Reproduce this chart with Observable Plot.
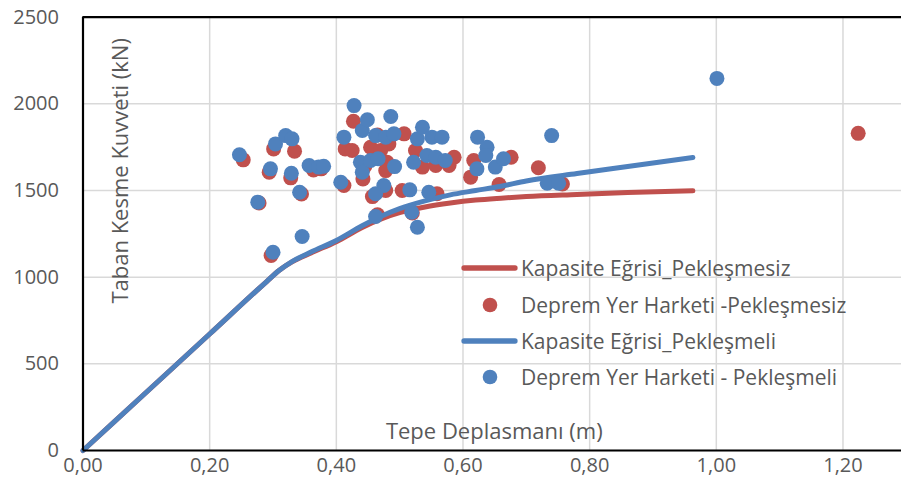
<!DOCTYPE html>
<html>
<head>
<meta charset="utf-8">
<script src="https://cdn.jsdelivr.net/npm/d3@7"></script>
<script src="https://cdn.jsdelivr.net/npm/@observablehq/plot@0.6"></script>
<style>
  body { margin: 0; background: #fff; }
  #wrap { position: relative; width: 901px; height: 500px; font-family: "Open Sans", sans-serif; }
  #legend { position: absolute; left: 461px; top: 250px; color: #595959; font-size: 21px; }
  .row { height: 36.4px; display: flex; align-items: center; white-space: nowrap; }
  .row svg { flex: none; margin-right: 3px; }
</style>
</head>
<body>
<div id="wrap"></div>
<script>
// ---- data ----
const xLabel = "Tepe Deplasmanı (m)";
const yLabel = "Taban Kesme Kuvveti (kN)";
const seriesNames = [
  "Kapasite Eğrisi_Pekleşmesiz",
  "Deprem Yer Harketi -Pekleşmesiz",
  "Kapasite Eğrisi_Pekleşmeli",
  "Deprem Yer Harketi - Pekleşmeli"
];
const colors = ["#C0504D", "#C0504D", "#4F81BD", "#4F81BD"];
const xTicks = [0, 0.2, 0.4, 0.6, 0.8, 1.0, 1.2];
const yTicks = [0, 500, 1000, 1500, 2000, 2500];

// capacity curve, no strain hardening (Pekleşmesiz)
const capRedX = [0, 0.10, 0.20, 0.29, 0.31, 0.33, 0.36, 0.40, 0.44, 0.47, 0.50, 0.54, 0.58, 0.62, 0.66, 0.70, 0.78, 0.86, 0.963];
const capRedY = [0, 336, 672, 975, 1040, 1088, 1140, 1205, 1285, 1335, 1372, 1405, 1428, 1445, 1456, 1465, 1477, 1488, 1498];
// capacity curve, with strain hardening (Pekleşmeli)
const capBlueX = [0, 0.10, 0.20, 0.29, 0.31, 0.33, 0.36, 0.40, 0.44, 0.47, 0.50, 0.54, 0.58, 0.62, 0.66, 0.70, 0.78, 0.86, 0.963];
const capBlueY = [0, 336, 672, 975, 1040, 1090, 1145, 1212, 1295, 1350, 1395, 1440, 1475, 1500, 1525, 1555, 1598, 1638, 1690];

// ground motion results, Pekleşmesiz
const gmRedX = [0.253, 0.301, 0.334, 0.294, 0.328, 0.364, 0.376, 0.345, 0.278, 0.297, 0.427, 0.414, 0.425, 0.454, 0.483, 0.470, 0.507, 0.525,
                0.480, 0.442, 0.478, 0.412, 0.457, 0.478, 0.504, 0.465, 0.536, 0.557, 0.578, 0.586, 0.617, 0.612, 0.676, 0.657,
                0.559, 0.719, 0.757, 1.224, 0.520, 0.465, 0.445];
const gmRedY = [1677, 1740, 1727, 1606, 1573, 1619, 1625, 1480, 1428, 1125, 1900, 1740, 1731, 1750, 1769, 1731, 1827, 1731,
                1663, 1567, 1615, 1529, 1465, 1500, 1500, 1360, 1635, 1644, 1644, 1692, 1673, 1577, 1692, 1535,
                1481, 1631, 1538, 1830, 1370, 1820, 1640];
// ground motion results, Pekleşmeli
const gmBlueX = [0.247, 0.276, 0.300, 0.296, 0.304, 0.320, 0.330, 0.329, 0.342, 0.346, 0.357, 0.372, 0.380, 0.407, 0.412, 0.428, 0.441, 0.449,
                 0.486, 0.438, 0.441, 0.454, 0.466, 0.462, 0.478, 0.491, 0.492, 0.475, 0.462, 0.462, 0.516, 0.519, 0.528, 0.522,
                 0.528, 0.536, 0.551, 0.567, 0.543, 0.557, 0.572, 0.546, 0.623, 0.638, 0.636, 0.622, 0.651, 0.664, 0.740, 0.733,
                 0.751, 1.001];
const gmBlueY = [1706, 1433, 1144, 1625, 1769, 1817, 1798, 1600, 1490, 1235, 1644, 1635, 1640, 1548, 1808, 1990, 1846, 1908,
                 1927, 1663, 1606, 1673, 1683, 1817, 1808, 1827, 1638, 1529, 1481, 1350, 1504, 1375, 1288, 1663,
                 1798, 1865, 1808, 1808, 1702, 1692, 1673, 1490, 1808, 1750, 1702, 1625, 1635, 1683, 1817, 1542,
                 1542, 2147];

const zip = (xs, ys) => xs.map((x, i) => ({x, y: ys[i]}));
const capRed = zip(capRedX, capRedY);
const capBlue = zip(capBlueX, capBlueY);
const gmRed = zip(gmRedX, gmRedY);
const gmBlue = zip(gmBlueX, gmBlueY);

const fmtX = d => d3.format(".2f")(d).replace(".", ",");
const textColor = "#595959";
const gridColor = "#d9d9d9";

const chart = Plot.plot({
  width: 901,
  height: 500,
  marginLeft: 82.5,
  marginRight: 0,
  marginTop: 16.7,
  marginBottom: 50,
  style: {fontFamily: "Open Sans, sans-serif", fontSize: "20px", color: textColor, background: "white"},
  x: {domain: [0, 1.2924]},
  y: {domain: [0, 2500]},
  marks: [
    Plot.gridX(xTicks, {stroke: gridColor, strokeOpacity: 1, strokeWidth: 1.5}),
    Plot.gridY(yTicks, {stroke: gridColor, strokeOpacity: 1, strokeWidth: 1.5}),
    Plot.axisX(xTicks, {tickSize: 0, tickPadding: 7, tickFormat: fmtX, label: null, fill: textColor}),
    Plot.axisY(yTicks, {tickSize: 0, tickPadding: 24, tickFormat: d => String(d), label: null, fill: textColor}),
    Plot.text([xLabel], {frameAnchor: "bottom", textAnchor: "middle", dx: 2, dy: -12, fontSize: 22, fill: textColor}),
    Plot.text([yLabel], {frameAnchor: "left", textAnchor: "middle", rotate: -90, dx: 38, dy: -63, fontSize: 22, fill: textColor}),
    Plot.line(capRed, {x: "x", y: "y", stroke: colors[0], strokeWidth: 5, curve: "monotone-x"}),
    Plot.dot(gmRed, {x: "x", y: "y", r: 7.5, fill: colors[1], stroke: null}),
    Plot.line(capBlue, {x: "x", y: "y", stroke: colors[2], strokeWidth: 5, curve: "monotone-x"}),
    Plot.dot(gmBlue, {x: "x", y: "y", r: 7.5, fill: colors[3], stroke: null}),
    Plot.ruleX([0], {stroke: "black", strokeWidth: 2.2}),
    Plot.ruleY([0, 2500], {stroke: "black", strokeWidth: 2.2})
  ]
});

const wrap = document.getElementById("wrap");
wrap.appendChild(chart);

// legend
const legend = document.createElement("div");
legend.id = "legend";
seriesNames.forEach((name, i) => {
  const row = document.createElement("div");
  row.className = "row";
  const isLine = i % 2 === 0;
  const sw = isLine
    ? `<svg width="57" height="10"><line x1="3" y1="5" x2="54" y2="5" stroke="${colors[i]}" stroke-width="5.3" stroke-linecap="round"/></svg>`
    : `<svg width="57" height="16"><circle cx="29" cy="8" r="7.3" fill="${colors[i]}"/></svg>`;
  row.innerHTML = sw + `<span>${name}</span>`;
  legend.appendChild(row);
});
wrap.appendChild(legend);
</script>
</body>
</html>
